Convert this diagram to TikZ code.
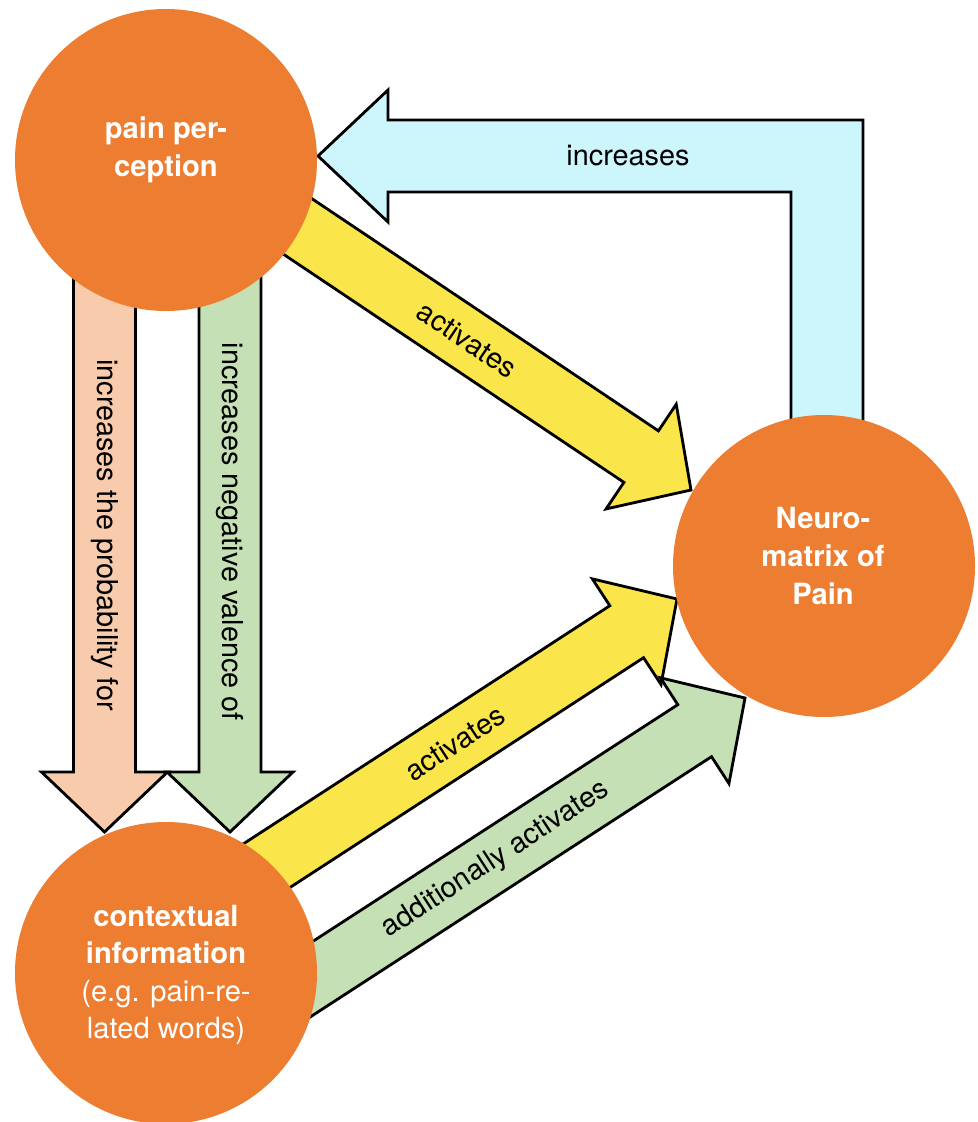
\documentclass[tikz,border=0pt]{standalone}
\usepackage{fontspec}
\setmainfont{TeX Gyre Heros}
\usetikzlibrary{calc}

\definecolor{painorange}{RGB}{236,125,49}
\definecolor{actyellow}{RGB}{250,230,75}
\definecolor{probpeach}{RGB}{247,203,172}
\definecolor{valgreen}{RGB}{197,224,180}
\definecolor{inccyan}{RGB}{204,246,252}

\tikzset{
  bubble/.style={circle,fill=painorange,minimum size=30.2mm,inner sep=0pt},
  bubbletext/.style={text=white,align=center,inner sep=0pt,
    font=\fontsize{8.3}{10.7}\selectfont},
  arrowbody/.style={draw=black,line width=0.8pt,line join=miter},
  arrowlabel/.style={font=\fontsize{8.2}{10}\selectfont,inner sep=0pt}
}

% block arrow: start, tip, fill
\newcommand\fatarrow[3]{%
  \coordinate (hb) at ($(#2)!6mm!(#1)$);
  \path[arrowbody,fill=#3]
    ($(#1)!3.1mm!90:(#2)$) -- ($(hb)!3.1mm!90:(#2)$) -- ($(hb)!6.3mm!90:(#2)$)
    -- (#2) -- ($(hb)!6.3mm!-90:(#2)$) -- ($(hb)!3.1mm!-90:(#2)$)
    -- ($(#1)!3.1mm!-90:(#2)$) -- cycle;
}

\begin{document}
\begin{tikzpicture}[x=0.1mm,y=-0.1mm]
\useasboundingbox (0,0) rectangle (977,1122);

% arrow ends
\coordinate (probs) at (104.5,200);
\coordinate (probt) at (104.5,832);
\coordinate (vals) at (230,200);
\coordinate (valt) at (230,832);
\coordinate (act1s) at (200,161);
\coordinate (act1t) at (691,490);
\coordinate (act2s) at (180,922);
\coordinate (act2t) at (677,599);
\coordinate (act3s) at (190,1058);
\coordinate (act3t) at (745,698);
\coordinate (incs) at (827,440);
\coordinate (inct) at (318,156);

% increases (L-shaped)
\path[arrowbody,fill=inccyan]
  (791,440) -- (791,192) -- (388,192) -- (388,222) -- (inct)
  -- (388,90) -- (388,120) -- (863,120) -- (863,440) -- cycle;
\node[arrowlabel] (inclabel) at (628,156) {increases};

\fatarrow{probs}{probt}{probpeach}
\fatarrow{vals}{valt}{valgreen}
\fatarrow{act1s}{act1t}{actyellow}
\fatarrow{act2s}{act2t}{actyellow}
\fatarrow{act3s}{act3t}{valgreen}

\path (probs) -- node[arrowlabel,sloped,pos=0.53] (problabel)
  {increases the probability for} (probt);
\path (vals) -- node[arrowlabel,sloped,pos=0.525] (vallabel)
  {increases negative valence of} (valt);
\path (act1s) -- node[arrowlabel,sloped,pos=0.544] (act1label)
  {activates} (act1t);
\path (act2s) -- node[arrowlabel,sloped,pos=0.553] (act2label)
  {activates} (act2t);
\path (act3s) -- node[arrowlabel,sloped,pos=0.551] (act3label)
  {additionally activates} (act3t);

% circles
\node[bubble] (perc) at (166,160) {};
\node[bubble] (neuro) at (824,566) {};
\node[bubble] (ctx) at (166,973) {};

\node[bubbletext] (perctext) at (166,150) {\bfseries pain per-\\\bfseries ception};
\node[bubbletext] (neurotext) at (823,556) {\bfseries Neuro-\\\bfseries matrix of\\\bfseries Pain};
\node[bubbletext] (ctxtext) at (166,975)
  {\bfseries contextual\\\bfseries information\\(e.g. pain-re-\\lated words)};
\end{tikzpicture}
\end{document}
